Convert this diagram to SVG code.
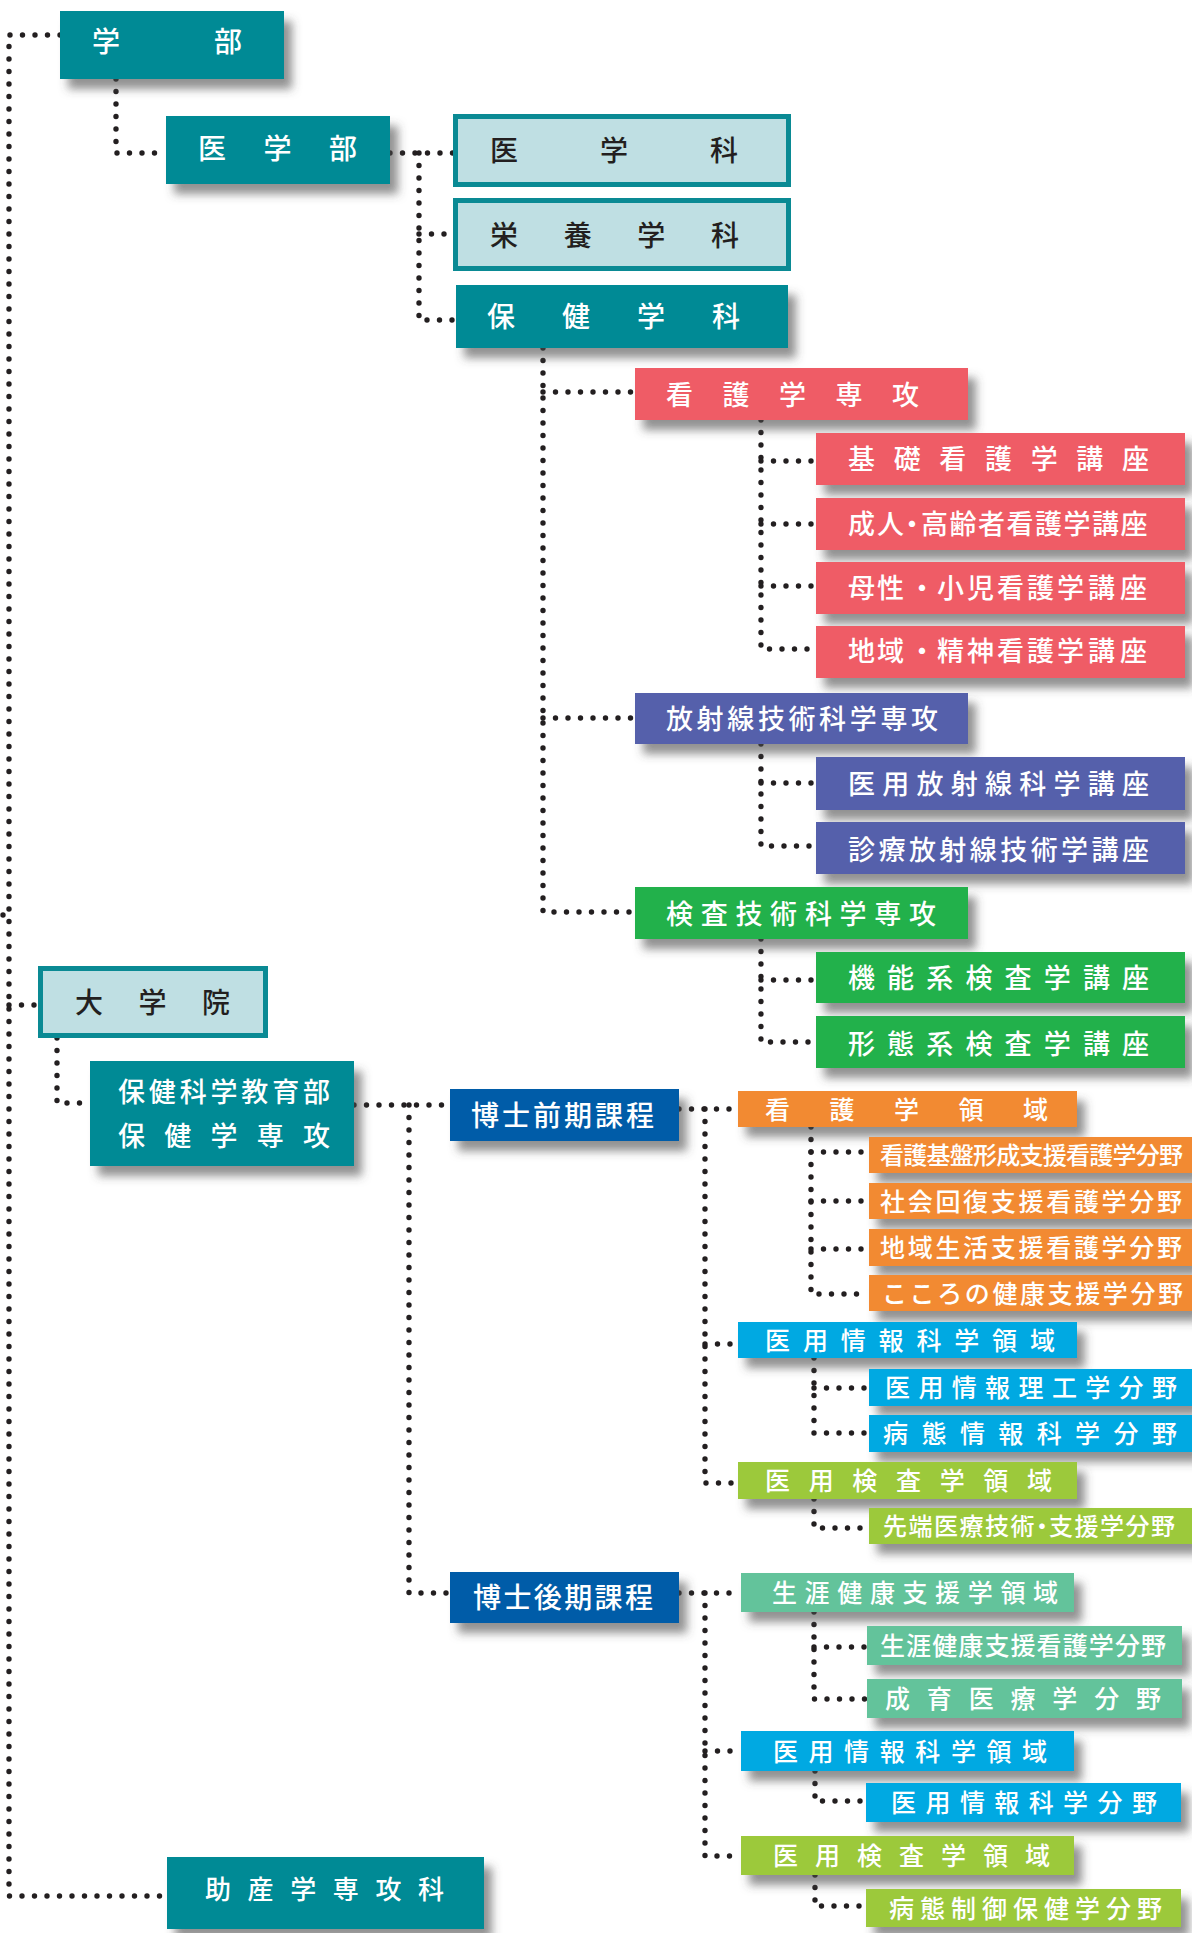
<svg xmlns="http://www.w3.org/2000/svg" width="1192" height="1933" viewBox="0 0 1192 1933">
<defs>
<filter id="sh" x="-10%" y="-30%" width="130%" height="190%">
<feDropShadow dx="8" dy="10" stdDeviation="5" flood-color="#4a4a4a" flood-opacity="0.6"/>
</filter>
<style>
.dot{fill:none;stroke:#231f20;stroke-width:5.4;stroke-linecap:round;stroke-dasharray:0 12.5}
text{font-family:"Noto Sans CJK JP","Noto Sans CJK SC",sans-serif;font-weight:500}
.w{fill:#ffffff}
.k{fill:#231f20}
.f28{font-size:28px}
.f27{font-size:27px}
.f26{font-size:26px}
.f25{font-size:25px}
.f24{font-size:24px}
.teal{fill:#008a95;filter:url(#sh)}
.lb{fill:#bfdfe3;stroke:#0a8a94;stroke-width:5}
.red{fill:#ef5b66;filter:url(#sh)}
.pur{fill:#5460ab;filter:url(#sh)}
.grn{fill:#22b14c;filter:url(#sh)}
.dblue{fill:#005ca8;filter:url(#sh)}
.org{fill:#f28a32;filter:url(#sh)}
.cyan{fill:#00a9e2;filter:url(#sh)}
.lime{fill:#9cc93a;filter:url(#sh)}
.mint{fill:#64c39b;filter:url(#sh)}
</style>
</defs>
<rect width="1192" height="1933" fill="#ffffff"/>

<g id="connectors">
<path class="dot" d="M60,35 H9 V1896 H167"/>
<path class="dot" d="M9,1005 H38"/>
<circle cx="3" cy="915" r="2.7" fill="#231f20"/>
<path class="dot" d="M116,79 V153 H166"/>
<path class="dot" d="M390,153 H453"/>
<path class="dot" d="M419,153 V320 H455"/>
<path class="dot" d="M419,234 H453"/>
<path class="dot" d="M543,348 V912 H635"/>
<path class="dot" d="M543,392 H635"/>
<path class="dot" d="M543,718 H635"/>
<path class="dot" d="M761,420 V649 H816"/>
<path class="dot" d="M761,461 H816"/>
<path class="dot" d="M761,524 H816"/>
<path class="dot" d="M761,586 H816"/>
<path class="dot" d="M761,744 V846 H816"/>
<path class="dot" d="M761,783 H816"/>
<path class="dot" d="M761,939 V1042 H816"/>
<path class="dot" d="M761,980 H816"/>
<path class="dot" d="M57,1038 V1103 H90"/>
<path class="dot" d="M354,1105 H450"/>
<path class="dot" d="M409,1105 V1593 H450"/>
<path class="dot" d="M679,1109 H738"/>
<path class="dot" d="M705,1109 V1483 H738"/>
<path class="dot" d="M705,1344 H738"/>
<path class="dot" d="M811,1127 V1294 H869"/>
<path class="dot" d="M811,1152 H869"/>
<path class="dot" d="M811,1201 H869"/>
<path class="dot" d="M811,1249 H869"/>
<path class="dot" d="M814,1358 V1433 H869"/>
<path class="dot" d="M814,1388 H869"/>
<path class="dot" d="M814,1499 V1528 H869"/>
<path class="dot" d="M679,1593 H741"/>
<path class="dot" d="M705,1593 V1856 H741"/>
<path class="dot" d="M705,1751 H741"/>
<path class="dot" d="M814,1612 V1699 H867"/>
<path class="dot" d="M814,1647 H867"/>
<path class="dot" d="M815,1771 V1801 H866"/>
<path class="dot" d="M815,1875 V1906 H866"/>
</g>

<g id="n-gakubu"><rect class="teal" x="60" y="11" width="224" height="68"/>
<text class="w f28" x="92 214" y="51.5">学部</text></g>

<g id="n-igakubu"><rect class="teal" x="166" y="116" width="224" height="68"/>
<text class="w f28" x="198 263.5 329" y="158.5">医学部</text></g>

<g id="n-igakuka"><rect class="lb" x="455.5" y="116.5" width="333" height="68"/>
<text class="k f28" x="490 600 710" y="160.5">医学科</text></g>

<g id="n-eiyo"><rect class="lb" x="455.5" y="200.5" width="333" height="68"/>
<text class="k f28" x="490 563.7 637.3 711" y="245.5">栄養学科</text></g>

<g id="n-hoken"><rect class="teal" x="456" y="285" width="332" height="63"/>
<text class="w f28" x="487 562 637 712" y="326.5">保健学科</text></g>

<g id="n-kango"><rect class="red" x="635" y="368" width="333" height="52"/>
<text class="w f27" x="666 722.5 779 835.5 892" y="405">看護学専攻</text></g>

<g id="n-kiso"><rect class="red" x="816" y="433" width="369" height="52"/>
<text class="w f27" x="848 893.7 939.3 985 1030.7 1076.3 1122" y="469">基礎看護学講座</text></g>

<g id="n-seijin"><rect class="red" x="816" y="498" width="369" height="52"/>
<text class="w f27" x="848 877 898.5 921 949.5 978 1006.5 1035 1063.5 1092 1120.5" y="534">成人・高齢者看護学講座</text></g>

<g id="n-bosei"><rect class="red" x="816" y="562" width="369" height="52"/>
<text class="w f27" x="848 877 908.5 937 967 997 1027 1057 1088 1120" y="598">母性・小児看護学講座</text></g>

<g id="n-chiiki"><rect class="red" x="816" y="626" width="369" height="52"/>
<text class="w f27" x="848 877 908.5 937 967 997 1027 1057 1088 1120" y="661">地域・精神看護学講座</text></g>

<g id="n-hoshasen"><rect class="pur" x="635" y="693" width="333" height="51"/>
<text class="w f27" x="666 696.6 727.3 757.9 788.5 819.1 849.8 880.4 911" y="729">放射線技術科学専攻</text></g>

<g id="n-iyohoshasen"><rect class="pur" x="816" y="757" width="369" height="53"/>
<text class="w f27" x="848 882.25 916.5 950.75 985 1019.25 1053.5 1087.75 1122" y="794">医用放射線科学講座</text></g>

<g id="n-shinryo"><rect class="pur" x="816" y="822" width="369" height="52"/>
<text class="w f27" x="848 878.4 908.9 939.3 969.8 1000.2 1030.7 1061.1 1091.6 1122" y="860">診療放射線技術学講座</text></g>

<g id="n-kensa"><rect class="grn" x="635" y="887" width="333" height="52"/>
<text class="w f27" x="666 700.7 735.4 770.1 804.9 839.6 874.3 909" y="923.5">検査技術科学専攻</text></g>

<g id="n-kinou"><rect class="grn" x="816" y="952" width="369" height="51"/>
<text class="w f27" x="848 887.1 926.3 965.4 1004.6 1043.7 1082.9 1122" y="988">機能系検査学講座</text></g>

<g id="n-keitai"><rect class="grn" x="816" y="1016" width="369" height="52"/>
<text class="w f27" x="848 887.1 926.3 965.4 1004.6 1043.7 1082.9 1122" y="1053.5">形態系検査学講座</text></g>

<g id="n-daigakuin"><rect class="lb" x="40.5" y="968.5" width="225" height="67"/>
<text class="k f28" x="75 138.5 202" y="1012.5">大学院</text></g>

<g id="n-hokenkagaku"><rect class="teal" x="90" y="1061" width="264" height="105"/>
<text class="w f27" x="118 148.8 179.7 210.5 241.3 272.2 303" y="1102">保健科学教育部</text>
<text class="w f27" x="118 164.25 210.5 256.75 303" y="1146">保健学専攻</text></g>

<g id="n-zenki"><rect class="dblue" x="450" y="1089" width="229" height="52"/>
<text class="w f28" x="471 502 533 564 595 626" y="1125.5">博士前期課程</text></g>

<g id="n-kangoryoiki"><rect class="org" x="738" y="1091" width="339" height="36"/>
<text class="w f25" x="765 829.5 894 958.5 1023" y="1118.5">看護学領域</text></g>

<g id="n-kibankeisei"><rect class="org" x="869" y="1137" width="323" height="36"/>
<text class="w f24" x="880 903.25 926.5 949.75 973 996.25 1019.5 1042.75 1066 1089.25 1112.5 1135.75 1159" y="1164">看護基盤形成支援看護学分野</text></g>

<g id="n-shakai"><rect class="org" x="869" y="1183" width="323" height="36"/>
<text class="w f25" x="880 907.7 935.4 963.1 990.8 1018.5 1046.2 1073.9 1101.6 1129.3 1157" y="1210.5">社会回復支援看護学分野</text></g>

<g id="n-chiikiseikatsu"><rect class="org" x="869" y="1229" width="323" height="37"/>
<text class="w f25" x="880 907.7 935.4 963.1 990.8 1018.5 1046.2 1073.9 1101.6 1129.3 1157" y="1257">地域生活支援看護学分野</text></g>

<g id="n-kokoro"><rect class="org" x="869" y="1275" width="323" height="36"/>
<text class="w f25" x="882 909.6 937.2 964.8 992.4 1020 1047.6 1075.2 1102.8 1130.4 1158" y="1302.5">こころの健康支援学分野</text></g>

<g id="n-iyojoho1"><rect class="cyan" x="738" y="1322" width="339" height="36"/>
<text class="w f25" x="765 802.9 840.7 878.6 916.4 954.3 992.1 1030" y="1349.5">医用情報科学領域</text></g>

<g id="n-rikou"><rect class="cyan" x="869" y="1369" width="323" height="37"/>
<text class="w f25" x="885 918.4 951.8 985.1 1018.5 1051.9 1085.3 1118.6 1152" y="1397">医用情報理工学分野</text></g>

<g id="n-byotaijoho"><rect class="cyan" x="869" y="1415" width="323" height="37"/>
<text class="w f25" x="883 921.4 959.9 998.3 1036.7 1075.1 1113.6 1152" y="1443">病態情報科学分野</text></g>

<g id="n-iyokensa1"><rect class="lime" x="738" y="1462" width="339" height="37"/>
<text class="w f25" x="765 808.7 852.3 896 939.7 983.3 1027" y="1490">医用検査学領域</text></g>

<g id="n-sentan"><rect class="lime" x="869" y="1508" width="323" height="36"/>
<text class="w f24" x="883 908.5 934 959.5 985 1010.5 1030 1049 1074.5 1100 1125.5 1151" y="1535">先端医療技術・支援学分野</text></g>

<g id="n-koki"><rect class="dblue" x="450" y="1572" width="229" height="51"/>
<text class="w f28" x="473 503.4 533.8 564.2 594.6 625" y="1608">博士後期課程</text></g>

<g id="n-shogai"><rect class="mint" x="741" y="1573" width="333" height="39"/>
<text class="w f25" x="772 804.6 837.3 869.9 902.5 935.1 967.8 1000.4 1033" y="1602">生涯健康支援学領域</text></g>

<g id="n-shogaikango"><rect class="mint" x="867" y="1626" width="315" height="39"/>
<text class="w f25" x="880 906.1 932.2 958.3 984.4 1010.5 1036.6 1062.7 1088.8 1114.9 1141" y="1655">生涯健康支援看護学分野</text></g>

<g id="n-seiiku"><rect class="mint" x="867" y="1679" width="315" height="39"/>
<text class="w f25" x="885 926.8 968.7 1010.5 1052.3 1094.2 1136" y="1708">成育医療学分野</text></g>

<g id="n-iyojoho2"><rect class="cyan" x="741" y="1731" width="333" height="40"/>
<text class="w f25" x="773 808.6 844.1 879.7 915.3 950.9 986.4 1022" y="1760.5">医用情報科学領域</text></g>

<g id="n-iyojohobunya"><rect class="cyan" x="866" y="1783" width="315" height="39"/>
<text class="w f25" x="891 925.4 959.9 994.3 1028.7 1063.1 1097.6 1132" y="1812">医用情報科学分野</text></g>

<g id="n-iyokensa2"><rect class="lime" x="741" y="1836" width="333" height="39"/>
<text class="w f25" x="773 815 857 899 941 983 1025" y="1865">医用検査学領域</text></g>

<g id="n-byotaiseigyo"><rect class="lime" x="866" y="1889" width="315" height="38"/>
<text class="w f25" x="889 920 951 982 1013 1044 1075 1106 1137" y="1917.5">病態制御保健学分野</text></g>

<g id="n-josan"><rect class="teal" x="167" y="1857" width="317" height="72"/>
<text class="w f26" x="205 247.6 290.2 332.8 375.4 418" y="1899">助産学専攻科</text></g>
</svg>
